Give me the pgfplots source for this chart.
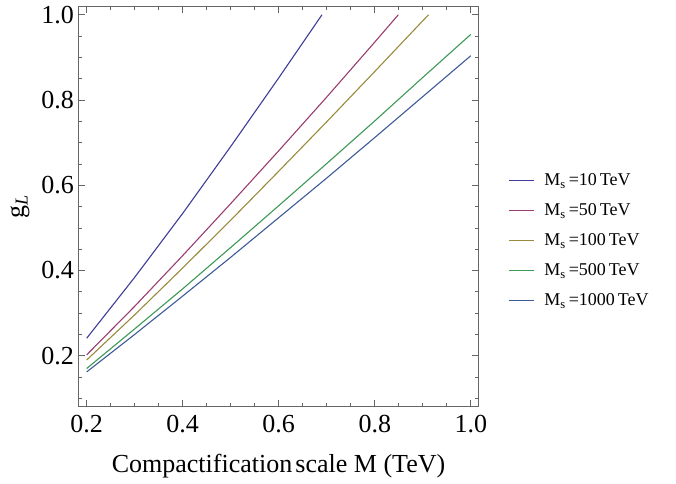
\documentclass[border=0pt]{standalone}
\usepackage{fontspec}
\setmainfont{Liberation Serif}
\usepackage{pgfplots}
\pgfplotsset{compat=1.18}

\definecolor{c1}{rgb}{0.24,0.24,0.6}
\definecolor{c2}{rgb}{0.6,0.24,0.4428}
\definecolor{c3}{rgb}{0.6,0.547,0.24}
\definecolor{c4}{rgb}{0.24,0.6,0.337}
\definecolor{c5}{rgb}{0.24,0.353,0.6}

\begin{document}
\begin{tikzpicture}
  \path[use as bounding box] (-79pt,-77pt) rectangle (597pt,406pt);
  \begin{axis}[
      at={(0,0)}, anchor=south west,
      width=399pt, height=399.3pt, scale only axis,
      xmin=0.184, xmax=1.015, ymin=0.082, ymax=1.019,
      xtick={0.2,0.4,0.6,0.8,1.0},
      ytick={0.2,0.4,0.6,0.8,1.0},
      minor xtick={0.25,0.3,0.35,0.45,0.5,0.55,0.65,0.7,0.75,0.85,0.9,0.95},
      minor ytick={0.1,0.15,0.25,0.3,0.35,0.45,0.5,0.55,0.65,0.7,0.75,0.85,0.9,0.95},
      tick align=inside,
      major tick length=6pt, minor tick length=3.5pt,
      every tick/.style={black!60, line width=0.7pt},
      axis line style={black!60, line width=1pt},
      tick label style={font=\fontsize{26}{30}\selectfont},
      label style={font=\fontsize{26}{30}\selectfont},
      xticklabel style={anchor=north, inner sep=0pt, yshift=-9pt},
      yticklabel style={anchor=east, inner sep=0pt, xshift=-5pt},
      /pgf/number format/.cd, fixed, fixed zerofill, precision=1,
      assume math mode=true, /pgfplots/.cd,
      xlabel={Compactification\hspace{0.12em}scale M (TeV)},
      xlabel style={at={(axis description cs:0.5,0)}, anchor=base, yshift=-66pt},
      ylabel={g\textsubscript{\textit{L}}},
      ylabel style={at={([xshift=-55pt]axis description cs:0,0.5)}, anchor=base},
      legend style={draw=none, fill=none,
        at={(axis description cs:1.075,0.582)}, anchor=north west,
        font=\fontsize{18}{20}\selectfont,
        row sep=16.5pt, column sep=10pt, inner sep=0pt,
        nodes={inner sep=0pt}},
      legend cell align=left,
      legend image code/.code={\draw[#1, line width=1.3pt] (0pt,0pt) -- (25pt,0pt);},
      no markers]
    \addplot[color=c1, line width=1.1pt] coordinates {
      (0.2,0.241) (0.3,0.384) (0.4,0.534) (0.5,0.691) (0.6,0.852) (0.69,1.0)
    };
    \addplot[color=c2, line width=1.1pt] coordinates {
      (0.2,0.202) (0.3,0.316) (0.4,0.435) (0.5,0.557) (0.6,0.681) (0.7,0.807)
      (0.8,0.936) (0.849,1.0)
    };
    \addplot[color=c3, line width=1.1pt] coordinates {
      (0.2,0.190) (0.3,0.296) (0.4,0.406) (0.5,0.518) (0.6,0.633) (0.7,0.749)
      (0.8,0.867) (0.9,0.986) (0.912,1.0)
    };
    \addplot[color=c4, line width=1.1pt] coordinates {
      (0.2,0.170) (0.3,0.263) (0.4,0.357) (0.5,0.454) (0.6,0.552) (0.7,0.651)
      (0.8,0.751) (0.9,0.853) (1.0,0.954)
    };
    \addplot[color=c5, line width=1.1pt] coordinates {
      (0.2,0.162) (0.3,0.250) (0.4,0.340) (0.5,0.431) (0.6,0.524) (0.7,0.617)
      (0.8,0.712) (0.9,0.808) (1.0,0.904)
    };
    \legend{M\textsubscript{s}\,=10\,TeV, M\textsubscript{s}\,=50\,TeV,
      M\textsubscript{s}\,=100\,TeV, M\textsubscript{s}\,=500\,TeV,
      M\textsubscript{s}\,=1000\,TeV}
  \end{axis}
\end{tikzpicture}
\end{document}
